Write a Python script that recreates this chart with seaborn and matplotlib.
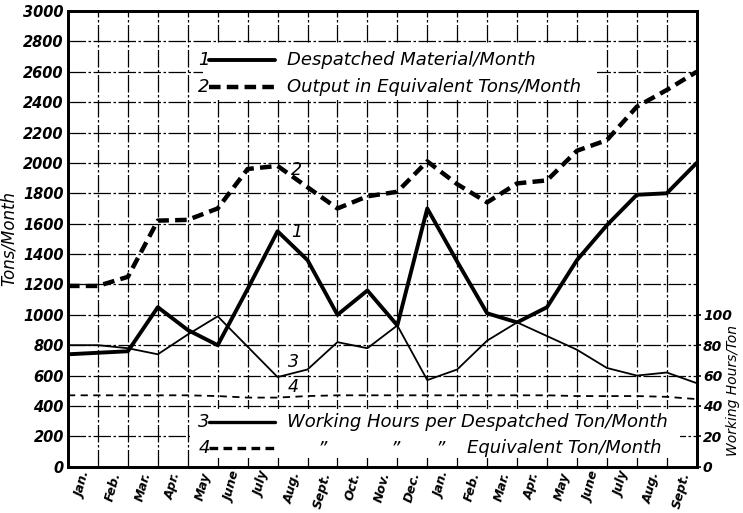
import numpy as np
import matplotlib
matplotlib.use('Agg')
import matplotlib.pyplot as plt
import seaborn as sns
from matplotlib.patches import Rectangle
from matplotlib.lines import Line2D

# month cells (labels) and month-end readings (22 points, first is the opening value)
months = ['Jan.', 'Feb.', 'Mar.', 'Apr.', 'May', 'June', 'July', 'Aug.', 'Sept.', 'Oct.', 'Nov.', 'Dec.',
          'Jan.', 'Feb.', 'Mar.', 'Apr.', 'May', 'June', 'July', 'Aug.', 'Sept.']
despatched = [740, 750, 760, 1050, 900, 800, 1170, 1550, 1360, 1000, 1160, 930,
              1700, 1350, 1010, 950, 1050, 1360, 1590, 1790, 1800, 2000]
output = [1190, 1190, 1250, 1620, 1625, 1700, 1960, 1980, 1840, 1700, 1780, 1810,
          2010, 1860, 1740, 1865, 1885, 2080, 2150, 2370, 2480, 2600]
hours_desp = [80, 80, 78, 74, 87, 99, 79, 59, 64, 82, 78, 93,
              57, 64, 83, 95, 86, 77, 65, 60, 62, 55]
hours_equiv = [47, 47, 47, 47, 47, 46.5, 45.5, 45.5, 46.5, 47, 47, 47,
               47, 47, 47, 47, 47, 46.5, 46.5, 46.5, 46, 44.5]

left_ticks = list(range(0, 3001, 200))
right_ticks = list(range(0, 101, 20))

x = np.arange(len(despatched))

sns.set_style('white')
plt.rcParams['font.family'] = ['DejaVu Sans']
plt.rcParams.update({'text.color': 'black', 'axes.labelcolor': 'black',
                     'xtick.color': 'black', 'ytick.color': 'black'})

fig, ax = plt.subplots(figsize=(7.43, 5.13), dpi=100)
fig.subplots_adjust(left=68 / 743, right=696.7 / 743, top=1 - 11 / 513, bottom=1 - 466.7 / 513)
ax2 = ax.twinx()

# main series
sns.lineplot(x=x, y=despatched, ax=ax, color='black', lw=2.8, zorder=4)
sns.lineplot(x=x, y=output, ax=ax, color='black', lw=3.2, linestyle=(0, (2.6, 1.4)), zorder=4)
sns.lineplot(x=x, y=hours_desp, ax=ax2, color='black', lw=1.3, zorder=4)
sns.lineplot(x=x, y=hours_equiv, ax=ax2, color='black', lw=1.3, linestyle=(0, (4, 3)), zorder=4)

ax.set_xlim(0, len(months))
ax.set_ylim(0, 3000)
ax2.set_ylim(0, 300)

ax.set_xticks(x)
ax.set_xticklabels([])
ax.set_xticks(np.arange(len(months)) + 0.5, minor=True)
ax.set_xticklabels(months, minor=True, rotation=75, ha='center', va='top',
                   fontsize=9, fontstyle='italic', fontweight='bold')
ax.tick_params(axis='x', which='both', length=0, pad=3)

ax.set_yticks(left_ticks)
ax.set_yticklabels([str(t) for t in left_ticks], fontsize=10.5, fontstyle='italic', fontweight='bold')
ax.tick_params(axis='y', length=0, pad=3)
ax2.set_yticks(right_ticks)
ax2.set_yticklabels([str(t) for t in right_ticks], fontsize=10, fontstyle='italic', fontweight='bold')
ax2.tick_params(axis='y', length=3, width=1.2, pad=1.5, direction='out')

ax.set_axisbelow(True)
ax.grid(True, which='major', color='black', lw=0.9, linestyle=(0, (14, 2, 2, 2)))

for a in (ax, ax2):
    for s in a.spines.values():
        s.set_linewidth(2)
        s.set_color('black')

ax.set_xlabel('')
ax2.set_xlabel('')
ax.set_ylabel('Tons/Month', fontsize=12, fontstyle='italic', labelpad=4)
ax2.set_ylabel('Working Hours/Ton', fontsize=10, fontstyle='italic', rotation=90,
               va='center', ha='center')
ax2.yaxis.set_label_coords(1.0575, 50 / 300)

# white label panels hiding the grid
ax.add_patch(Rectangle((0.2147, 0.809), 0.8414 - 0.2147, 0.9276 - 0.809, transform=ax.transAxes,
                       facecolor='white', edgecolor='none', zorder=1))
ax.add_patch(Rectangle((0.194, 0.0191), 0.9734 - 0.194, 0.1267 - 0.0191, transform=ax.transAxes,
                       facecolor='white', edgecolor='none', zorder=1))

txt = dict(fontsize=13, fontstyle='italic', color='black', transform=ax.transAxes, va='center', zorder=5)


def key(y, num, style, lw, label):
    ax.text(0.2163, y, num, ha='center', **txt)
    ax.add_line(Line2D([0.2235, 0.329], [y, y], transform=ax.transAxes, color='black',
                       lw=lw, linestyle=style, zorder=5))
    ax.text(0.348, y, label, ha='left', **txt)


key(0.8925, '1', '-', 2.8, 'Despatched Material/Month')
key(0.833, '2', (0, (2.6, 1.4)), 3.2, 'Output in Equivalent Tons/Month')
key(0.0981, '3', '-', 2.4, 'Working Hours per Despatched Ton/Month')
key(0.041, '4', (0, (2.6, 1.6)), 2.4, '')
for xq in (0.404, 0.52, 0.592):
    ax.text(xq, 0.041, '\u201d', ha='center', **txt)
ax.text(0.635, 0.041, 'Equivalent Ton/Month', ha='left', **txt)

# curve numbers
for num, xv, yv in (('1', 7.64, 1546), ('2', 7.64, 1952), ('3', 7.52, 690), ('4', 7.52, 522)):
    ax.text(xv, yv, num, fontsize=12.5, fontstyle='italic', color='black',
            ha='center', va='center', zorder=5)

fig.savefig('out.png', dpi=100)
